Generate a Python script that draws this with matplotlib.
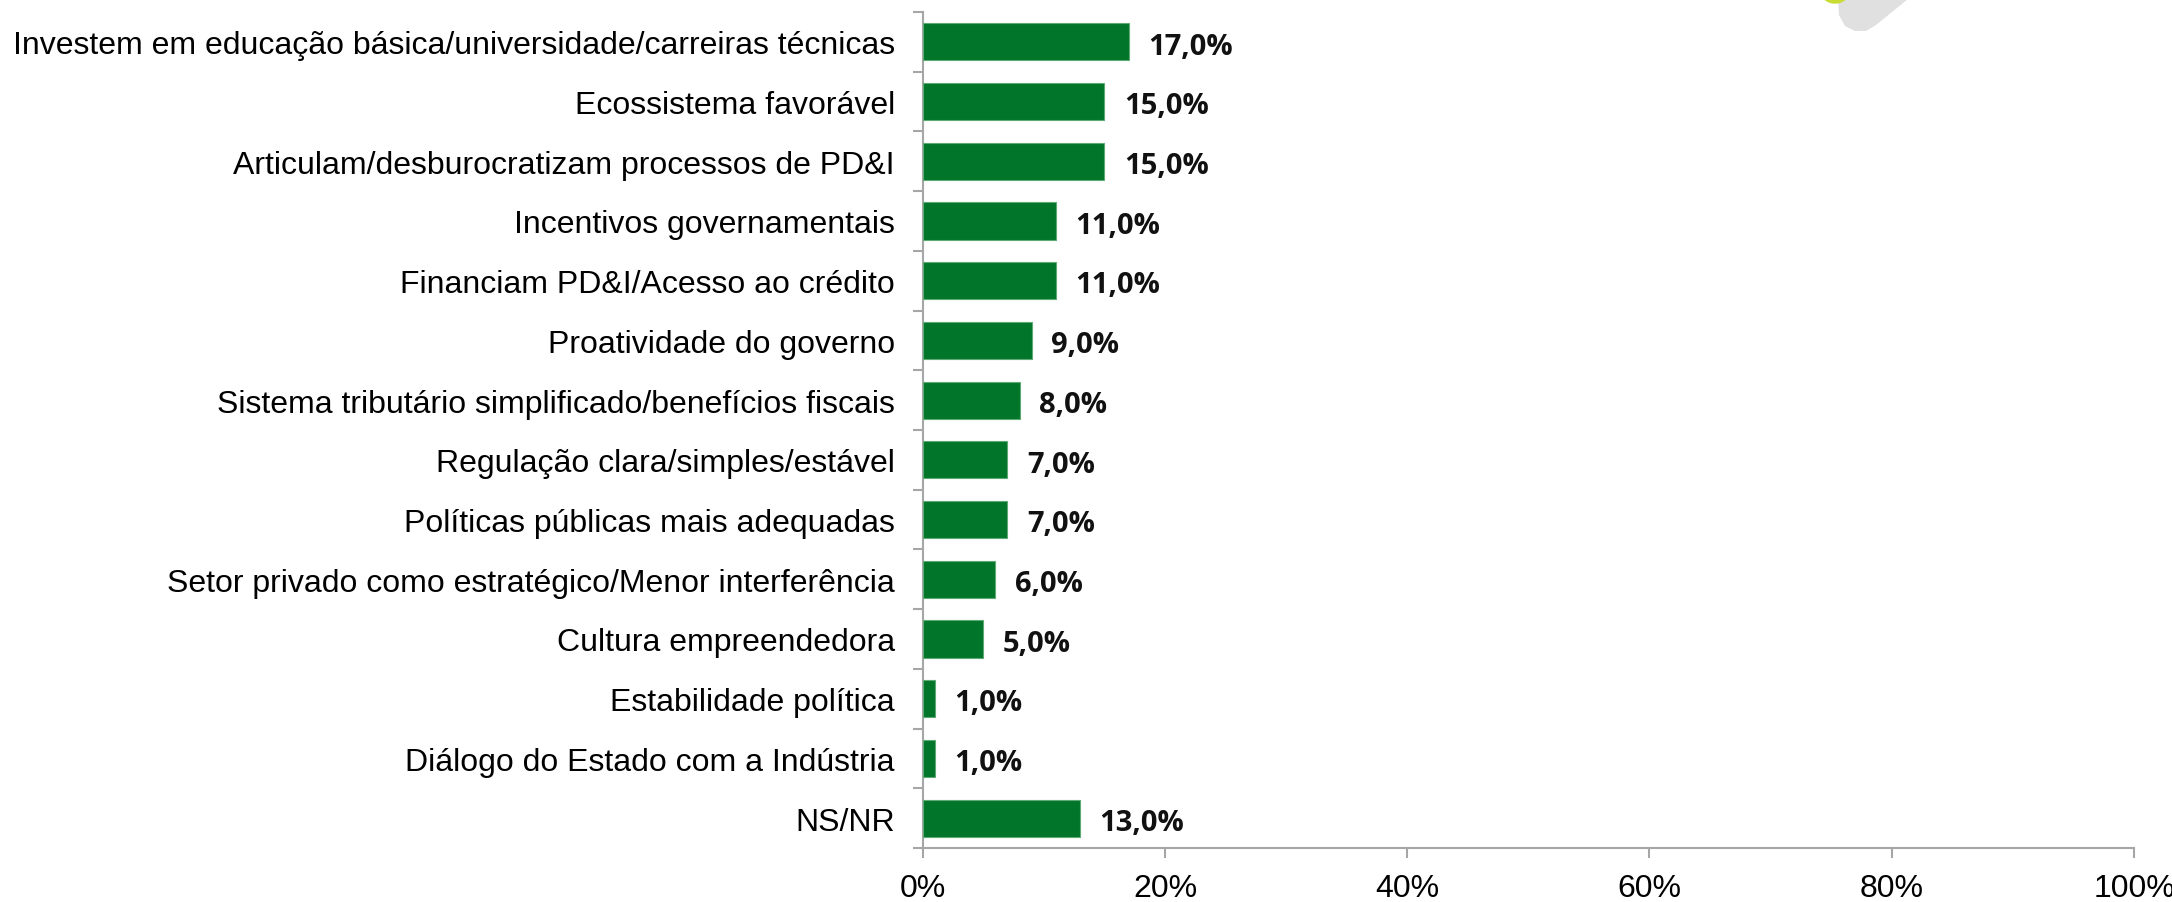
import matplotlib
matplotlib.use('Agg')
import matplotlib.pyplot as plt
from matplotlib.patches import Ellipse, Polygon
from matplotlib.ticker import FixedLocator, PercentFormatter

categories = [
    'Investem em educação básica/universidade/carreiras técnicas',
    'Ecossistema favorável',
    'Articulam/desburocratizam processos de PD&I',
    'Incentivos governamentais',
    'Financiam PD&I/Acesso ao crédito',
    'Proatividade do governo',
    'Sistema tributário simplificado/benefícios fiscais',
    'Regulação clara/simples/estável',
    'Políticas públicas mais adequadas',
    'Setor privado como estratégico/Menor interferência',
    'Cultura empreendedora',
    'Estabilidade política',
    'Diálogo do Estado com a Indústria',
    'NS/NR',
]
values = [17.0, 15.0, 15.0, 11.0, 11.0, 9.0, 8.0, 7.0, 7.0, 6.0, 5.0, 1.0, 1.0, 13.0]
x_ticks = [0, 20, 40, 60, 80, 100]

green = '#01762a'
axis_grey = '#a6a6a6'

W, H = 2172, 903
fig = plt.figure(figsize=(W / 100, H / 100), dpi=100)
ax = fig.add_axes([922.7 / W, 1 - 849 / H, (2134 - 922.7) / W, (849 - 13) / H])

ypos = list(range(len(categories)))
ax.barh(ypos, values, height=0.62, color=green, edgecolor='#5fa975', linewidth=0.8, zorder=3)

for y, v in zip(ypos, values):
    ax.annotate(f'{v:.1f}%'.replace('.', ','), (v, y), xytext=(14, -3),
                textcoords='offset points', va='center', ha='left',
                fontsize=21, fontweight='bold', family=['Open Sans', 'DejaVu Sans'],
                color='#111111')

ax.set_xlim(0, 100)
ax.set_ylim(len(categories) - 0.5, -0.5)

ax.set_yticks(ypos)
ax.set_yticklabels(categories, fontsize=23, family=['Liberation Sans', 'DejaVu Sans'])
ax.yaxis.set_minor_locator(FixedLocator([i - 0.5 for i in range(len(categories) + 1)]))
ax.tick_params(axis='y', which='major', length=0, pad=20)
ax.tick_params(axis='y', which='minor', length=7, width=1.5, color=axis_grey)

ax.set_xticks(x_ticks)
ax.xaxis.set_major_formatter(PercentFormatter(decimals=0))
ax.tick_params(axis='x', which='major', length=7, width=1.5, color=axis_grey, pad=11,
               labelsize=23)
for lbl in ax.get_xticklabels():
    lbl.set_family(['Liberation Sans', 'DejaVu Sans'])

for side in ['top', 'right']:
    ax.spines[side].set_visible(False)
for side in ['left', 'bottom']:
    ax.spines[side].set_color(axis_grey)
    ax.spines[side].set_linewidth(1.5)

# logo fragment cut by the top edge
shadow = [(1838, 0), (1839, 16), (1845, 27), (1855, 32), (1866, 32), (1876, 26), (1908, 0)]
fig.add_artist(Polygon([(x / W, 1 - y / H) for x, y in shadow], closed=True,
                       transform=fig.transFigure, facecolor='#e0e0e0', edgecolor='none', zorder=4))
fig.add_artist(Ellipse((1835 / W, 1 + 8 / H), 28 / W, 24 / H, transform=fig.transFigure,
                       color='#c8dc32', zorder=5))

fig.savefig('out.png', dpi=100, facecolor='white')
